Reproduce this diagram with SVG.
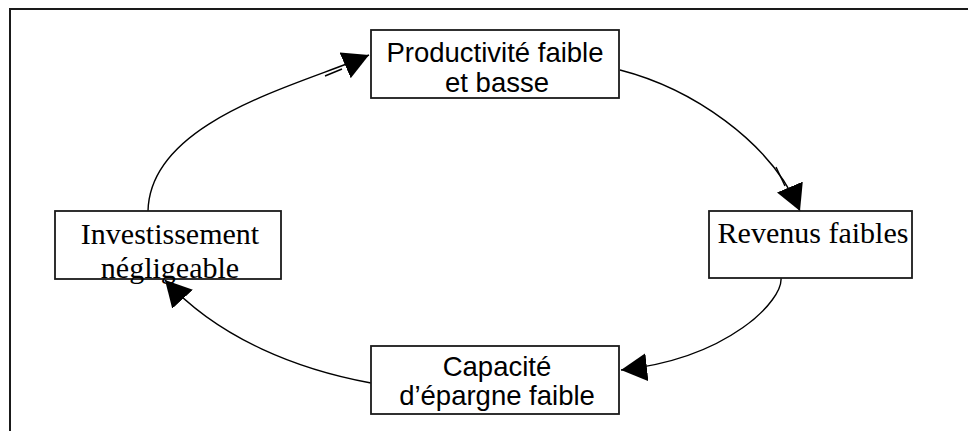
<svg xmlns="http://www.w3.org/2000/svg" width="968" height="431" viewBox="0 0 968 431">
  <style>
    .frame { fill: none; stroke: #1a1a1a; stroke-width: 2; }
    .box { fill: #ffffff; stroke: #1a1a1a; stroke-width: 1.8; }
    .sans { font-family: "Liberation Sans", Arial, sans-serif; font-size: 27.5px; fill: #000; text-anchor: middle; }
    .serif { font-family: "Liberation Serif", "Times New Roman", serif; font-size: 30px; fill: #000; text-anchor: middle; }
    .link { fill: none; stroke: #000; stroke-width: 1.4; }
  </style>
  <defs>
    <marker id="head" viewBox="0 0 26 28" refX="26" refY="14" markerWidth="26" markerHeight="28" markerUnits="userSpaceOnUse" orient="auto">
      <path d="M0,0 L26,14 L0,28 z" fill="#000"/>
    </marker>
  </defs>

  <rect width="968" height="431" fill="#ffffff"/>
  <!-- page frame -->
  <path class="frame" d="M10,431 V9 H968"/>

  <!-- cycle connectors -->
  <g id="connectors">
    <path class="link" d="M620,70 C690,88 770,140 800,211" marker-end="url(#head)"/>
    <line class="link" x1="776" y1="167" x2="785" y2="186"/>
    <path class="link" d="M781,278 C783,300 730,358 621,370" marker-end="url(#head)"/>
    <path class="link" d="M371,383 C300,370 220,340 165,280" marker-end="url(#head)"/>
    <path class="link" d="M148,211 C150,120 300,85 369,55" marker-end="url(#head)"/>
    <line class="link" x1="325" y1="76" x2="342" y2="69"/>
  </g>

  <g id="productivite">
    <rect class="box" x="371" y="30" width="248" height="68"/>
    <text class="sans" x="495" y="62">Productivité faible</text>
    <text class="sans" x="497" y="92">et basse</text>
  </g>

  <g id="revenus">
    <rect class="box" x="709" y="211" width="203" height="67"/>
    <text class="serif" x="813" y="243">Revenus faibles</text>
  </g>

  <g id="epargne">
    <rect class="box" x="371" y="346" width="248" height="68"/>
    <text class="sans" x="497" y="376">Capacité</text>
    <text class="sans" x="497" y="405">d’épargne faible</text>
  </g>

  <g id="investissement">
    <rect class="box" x="55" y="211" width="226" height="68"/>
    <text class="serif" x="170" y="244">Investissement</text>
    <text class="serif" x="170" y="278">négligeable</text>
  </g>
</svg>
